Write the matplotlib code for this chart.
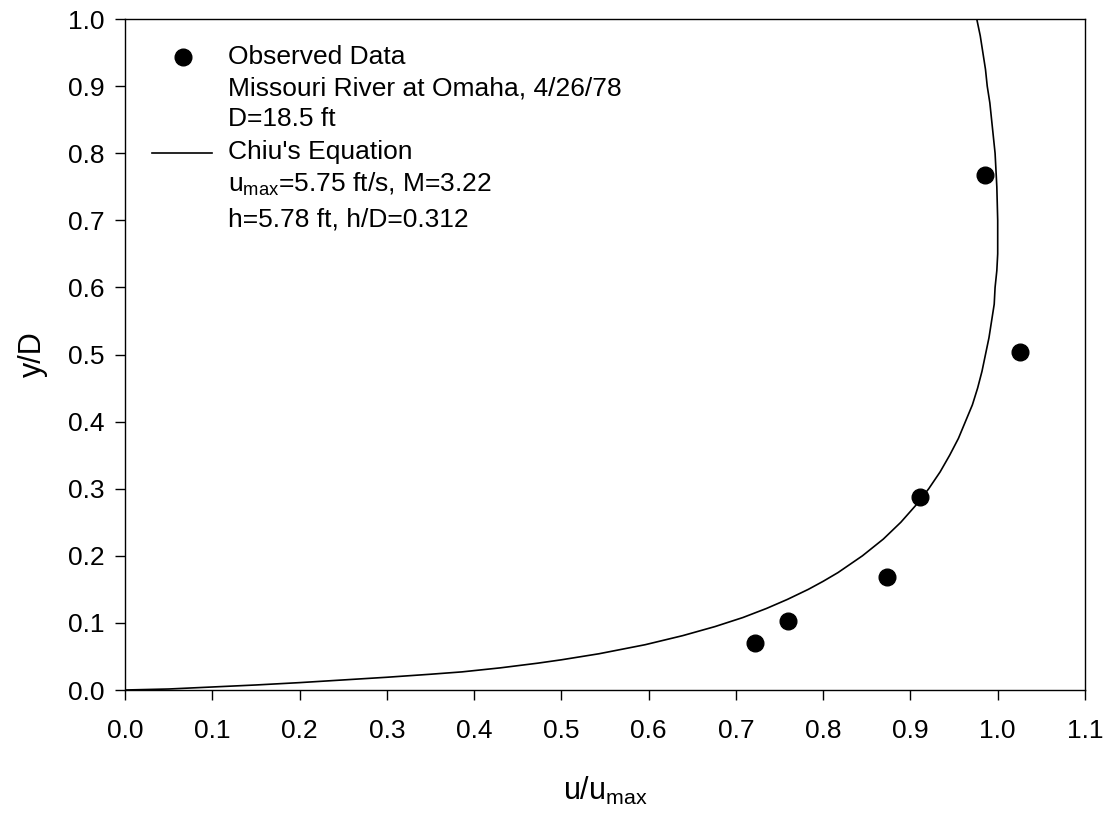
import numpy as np
import matplotlib.pyplot as plt

plt.rcParams['font.family'] = ['Liberation Sans', 'DejaVu Sans']

# Observed data, Missouri River at Omaha, 4/26/78
u_obs = np.array([0.722, 0.760, 0.873, 0.911, 0.986, 1.025])
y_obs = np.array([0.070, 0.103, 0.168, 0.287, 0.768, 0.503])

# Chiu's equation curve
u_chiu = [0.0, 0.05, 0.10, 0.15, 0.20, 0.25, 0.30, 0.35, 0.386, 0.430, 0.473,
          0.500, 0.543, 0.596, 0.639, 0.676, 0.708, 0.735, 0.759, 0.783,
          0.800, 0.817, 0.845, 0.869, 0.889, 0.906, 0.921, 0.934, 0.945,
          0.955, 0.963, 0.971, 0.977, 0.982, 0.986, 0.990, 0.993, 0.996,
          0.997, 0.999, 1.000, 1.000, 1.000, 0.999, 0.998, 0.997, 0.995,
          0.993, 0.991, 0.988, 0.986, 0.983, 0.980, 0.976]
y_chiu = [0.0, 0.0015, 0.0045, 0.0075, 0.011, 0.015, 0.019, 0.0235, 0.027,
          0.033, 0.040, 0.045, 0.054, 0.0675, 0.081, 0.0945, 0.108, 0.1215,
          0.135, 0.150, 0.162, 0.175, 0.200, 0.225, 0.250, 0.275, 0.300,
          0.325, 0.350, 0.375, 0.400, 0.425, 0.450, 0.475, 0.500, 0.525,
          0.550, 0.575, 0.600, 0.625, 0.650, 0.688, 0.700, 0.750, 0.775,
          0.800, 0.825, 0.850, 0.875, 0.900, 0.925, 0.950, 0.975, 1.000]

fig = plt.figure(figsize=(11.07, 8.16), dpi=100)
ax = fig.add_axes([0.1129, 0.1544, 0.8672, 0.8223])

ax.plot(u_chiu, y_chiu, color='black', lw=1.2)
ax.plot(u_obs, y_obs, 'o', color='black', ms=12, clip_on=False)

ax.set_xlim(0, 1.1)
ax.set_ylim(0, 1.0)
ax.set_xticks(np.arange(0, 1.11, 0.1))
ax.set_yticks(np.arange(0, 1.01, 0.1))
ax.xaxis.set_major_formatter(plt.FormatStrFormatter('%.1f'))
ax.yaxis.set_major_formatter(plt.FormatStrFormatter('%.1f'))
ax.tick_params(direction='out', length=7, width=1, labelsize=19)
ax.tick_params(axis='x', pad=14)
ax.tick_params(axis='y', pad=8)
for s in ax.spines.values():
    s.set_linewidth(1)

ax.set_xlabel('u/u$_{\\mathregular{max}}$', fontsize=22, labelpad=23)
ax.set_ylabel('y/D', fontsize=22, labelpad=14)

# legend drawn by hand
tr = ax.transAxes
ax.plot([0.0604], [0.9434], 'o', color='black', ms=12, transform=tr, clip_on=False)
ax.plot([0.028, 0.0906], [0.8003, 0.8003], color='black', lw=1.2, transform=tr)
lines = [
    (0.9434, 'Observed Data'),
    (0.8966, 'Missouri River at Omaha, 4/26/78'),
    (0.8515, 'D=18.5 ft'),
    (0.8011, "Chiu's Equation"),
    (0.7540, 'u$_{\\mathregular{max}}$=5.75 ft/s, M=3.22'),
    (0.7019, 'h=5.78 ft, h/D=0.312'),
]
for yy, t in lines:
    ax.text(0.1073, yy, t, transform=tr, fontsize=19, va='center', ha='left')

fig.savefig('out.png', dpi=100)
